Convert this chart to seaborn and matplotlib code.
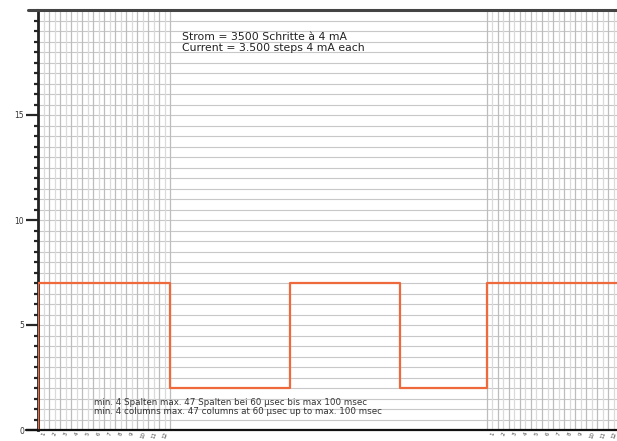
import numpy as np
import pandas as pd
import matplotlib
matplotlib.use("Agg")
import matplotlib.pyplot as plt
from matplotlib.lines import Line2D
import seaborn as sns

# step signal (columns vs current level)
step_x = [0, 0, 24, 45.7, 65.7, 81.4, 105]
step_y = [0, 7, 2, 7, 2, 7, 7]

# column (gray) regions
left_cols = (0, 24)
right_cols = (81.4, 105)

y_major = [0, 5, 10, 15]
top_text = ["Strom = 3500 Schritte à 4 mA", "Current = 3.500 steps 4 mA each"]
bottom_text = ["min. 4 Spalten max. 47 Spalten bei 60 µsec bis max 100 msec",
               "min. 4 columns max. 47 columns at 60 µsec up to max. 100 msec"]

sns.set_style("white")
plt.rcParams['font.family'] = ['DejaVu Sans']

fig = plt.figure(figsize=(6.17, 4.41), dpi=100)
ax = fig.add_axes([38 / 617, 11 / 441, 579 / 617, 420 / 441])
ax.set_xlim(0, 105)
ax.set_ylim(0, 20)

# horizontal grid every 0.5
for y in np.arange(0.5, 20, 0.5):
    ax.axhline(y, color="#c8c8c8", lw=0.8, zorder=0)

# vertical grid in the column regions
for a, b in [left_cols, right_cols]:
    for i, x in enumerate(np.arange(a, b + 0.01, 1.0)):
        ax.axvline(x, color="#bdbdbd" if i % 2 == 0 else "#dadada", lw=0.9, zorder=0)

df = pd.DataFrame({"x": step_x, "y": step_y})
sns.lineplot(data=df, x="x", y="y", drawstyle="steps-post", estimator=None,
             sort=False, color="#ee6a3c", lw=1.6, ax=ax, zorder=3)

ax.set_xlabel("")
ax.set_ylabel("")

# y ticks
ax.set_yticks(y_major)
ax.set_yticklabels([str(v) for v in y_major], fontsize=5.5, color="#333333")
ax.set_yticks(np.arange(0, 20, 0.5), minor=True)
ax.tick_params(axis="y", which="major", length=9, width=1.6, pad=1, left=True)
ax.tick_params(axis="y", which="minor", length=3, width=1.6, left=True)

# bottom labels in column regions
xt = list(np.arange(1, 24, 2)) + list(np.arange(82.5, 105, 2))
ax.set_xticks(xt)
ax.set_xticklabels([str((i % 12) + 1) for i in range(len(xt))], fontsize=4,
                   rotation=70, color="#444444")
ax.tick_params(axis="x", length=0, pad=1, bottom=True)

ax.spines["right"].set_visible(False)
ax.spines["left"].set_linewidth(2)
ax.spines["bottom"].set_linewidth(1.6)
ax.spines["top"].set_linewidth(2.2)
ax.spines["top"].set_color("#444444")
ax.spines["left"].set_color("#222222")
ax.spines["bottom"].set_color("#111111")

# axis lines run a little past the y axis on the left
fig.add_artist(Line2D([28 / 617, 38 / 617], [431 / 441, 431 / 441], color="#444444", lw=2.2))
fig.add_artist(Line2D([26 / 617, 38 / 617], [11 / 441, 11 / 441], color="#111111", lw=1.6))

ax.text(26.2, 18.7, top_text[0], fontsize=7.8, color="#222222", va="center", zorder=4)
ax.text(26.2, 18.17, top_text[1], fontsize=7.8, color="#222222", va="center", zorder=4)
ax.text(10.2, 1.33, bottom_text[0], fontsize=6.3, color="#333333", va="center", zorder=4)
ax.text(10.2, 0.86, bottom_text[1], fontsize=6.3, color="#333333", va="center", zorder=4)

fig.savefig("out.png", dpi=100)
